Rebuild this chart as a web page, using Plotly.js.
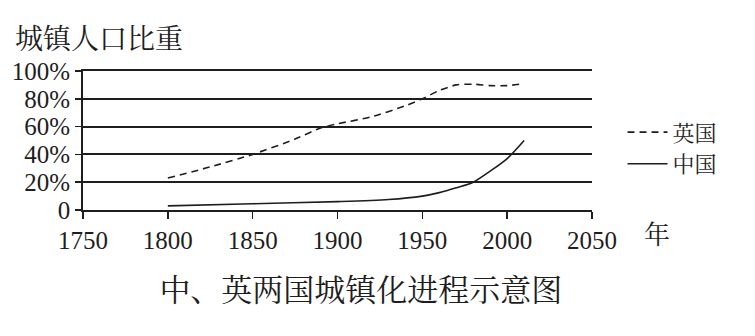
<!DOCTYPE html>
<html>
<head>
<meta charset="utf-8">
<script src="https://cdn.plot.ly/plotly-3.0.1.min.js"></script>
<style>html,body{margin:0;padding:0;background:#fff;}#chart{width:755px;height:336px;}</style>
</head>
<body>
<div id="chart"></div>
<script>
// Data
const ukYears = [1800, 1825, 1850, 1875, 1890, 1900, 1920, 1940, 1950, 1960, 1970, 1980, 1990, 2000, 2010];
const ukShare = [23, 31, 40, 51, 59, 62, 67, 75, 80, 86, 90, 90.5, 89.5, 89.5, 91];
const cnYears = [1800, 1850, 1900, 1930, 1950, 1960, 1970, 1980, 1990, 2000, 2010];
const cnShare = [3, 4.5, 6, 7.5, 10, 12.5, 16, 20, 28, 37, 50];
const xTicks = [1750, 1800, 1850, 1900, 1950, 2000, 2050];
const yTicks = [0, 20, 40, 60, 80, 100];
const yTickText = ['0', '20%', '40%', '60%', '80%', '100%'];
const seriesNames = ['英国', '中国'];

const serif = 'Liberation Serif, Times New Roman, DejaVu Serif, serif';
const cjk = 'Noto Serif CJK SC, Noto Sans CJK SC, sans-serif';
const ink = '#1e1e1e';

const traces = [
  {x: ukYears, y: ukShare, name: seriesNames[0], mode: 'lines',
   line: {color: ink, width: 1.6, dash: '7px,5px', shape: 'spline', smoothing: 0.6}},
  {x: cnYears, y: cnShare, name: seriesNames[1], mode: 'lines',
   line: {color: ink, width: 1.6, shape: 'spline', smoothing: 0.8}}
];

const layout = {
  width: 755, height: 336,
  margin: {l: 83, r: 163, t: 71, b: 126, pad: 0},
  paper_bgcolor: '#ffffff', plot_bgcolor: '#ffffff',
  showlegend: true,
  legend: {x: 1.06, y: 0.71, xanchor: 'left', yanchor: 'top',
    font: {family: cjk, size: 22, color: ink}, bgcolor: 'rgba(0,0,0,0)',
    tracegroupgap: 0, itemwidth: 40},
  title: {text: '中、英两国城镇化进程示意图', x: 0.478, xanchor: 'center',
    y: 1 - 290/336, yanchor: 'middle', font: {family: cjk, size: 31, color: ink}},
  xaxis: {range: [1750, 2050], tickvals: xTicks, ticktext: xTicks.map(String),
    showgrid: false, zeroline: false, showline: true, mirror: true,
    linecolor: ink, linewidth: 1.8,
    ticks: 'outside', ticklen: 7, tickwidth: 1.5, tickcolor: ink,
    tickfont: {family: serif, size: 25, color: ink}, fixedrange: true},
  yaxis: {range: [0, 100], tickvals: yTicks, ticktext: yTickText,
    showgrid: true, gridcolor: ink, gridwidth: 2, zeroline: false,
    showline: true, linecolor: ink, linewidth: 1.8,
    ticks: 'outside', ticklen: 6, tickwidth: 1.5, tickcolor: ink,
    tickfont: {family: serif, size: 25, color: ink}, fixedrange: true},
  annotations: [
    {text: '城镇人口比重', xref: 'paper', yref: 'paper', x: (14-83)/509, y: (210-37)/139,
     xanchor: 'left', yanchor: 'middle', showarrow: false, borderpad: 0,
     font: {family: cjk, size: 28, color: ink}},
    {text: '年', xref: 'paper', yref: 'paper', x: (657-83)/509, y: (210-232)/139,
     xanchor: 'center', yanchor: 'middle', showarrow: false, font: {family: cjk, size: 26, color: ink}}
  ]
};

Plotly.newPlot('chart', traces, layout, {staticPlot: true, displayModeBar: false});
</script>
</body>
</html>
